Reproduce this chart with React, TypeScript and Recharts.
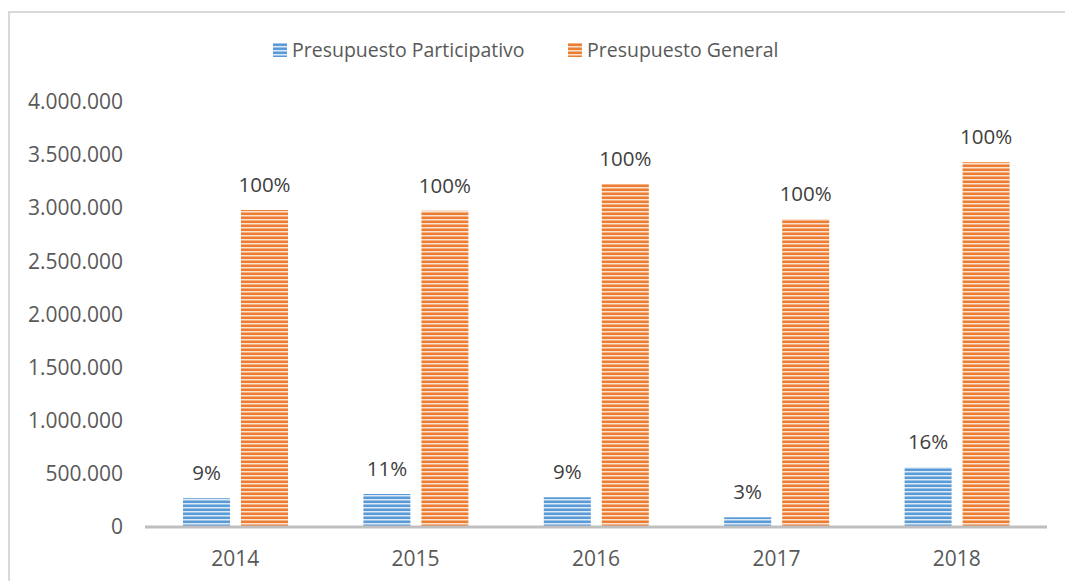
import React from "react";
import { BarChart, Bar, XAxis, YAxis, LabelList } from "recharts";

const categories = ["2014", "2015", "2016", "2017", "2018"];
const participativo = [270000, 310000, 279000, 91000, 561000];
const general = [2980000, 2973000, 3224000, 2895000, 3428000];
const participativoPct = ["9%", "11%", "9%", "3%", "16%"];
const generalPct = ["100%", "100%", "100%", "100%", "100%"];
const yTicks = [0, 500000, 1000000, 1500000, 2000000, 2500000, 3000000, 3500000, 4000000];
const seriesNames = ["Presupuesto Participativo", "Presupuesto General"];

const data = categories.map((year, i) => ({
  year,
  participativo: participativo[i],
  general: general[i],
  pPct: participativoPct[i],
  gPct: generalPct[i],
}));

const FONT = "'Open Sans', sans-serif";

function fmtThousands(v: number): string {
  return String(v).replace(/\B(?=(\d{3})+(?!\d))/g, ".");
}

// striped fills, referenced by id from the chart and the legend
function StripeDefs() {
  return (
    <svg width={0} height={0} style={{ position: "absolute" }}>
      <defs>
        <pattern id="stripeBlue" patternUnits="userSpaceOnUse" width={8} height={4}>
          <rect width={8} height={4} fill="#dceaf7" />
          <rect y={0} width={8} height={1} fill="#9dc3e6" />
          <rect y={1} width={8} height={2} fill="#5b9bd5" />
        </pattern>
        <pattern id="stripeOrange" patternUnits="userSpaceOnUse" width={8} height={4}>
          <rect width={8} height={4} fill="#fbe3d3" />
          <rect y={0} width={8} height={1} fill="#f4b183" />
          <rect y={1} width={8} height={2} fill="#ed7d31" />
        </pattern>
      </defs>
    </svg>
  );
}

function LegendBox() {
  const fills = ["url(#stripeBlue)", "url(#stripeOrange)"];
  const lefts = [273, 568];
  return (
    <>
      {seriesNames.map((name, i) => (
        <div
          key={name}
          style={{
            position: "absolute",
            left: lefts[i],
            top: 36,
            display: "flex",
            alignItems: "center",
            fontFamily: FONT,
            fontSize: 19.5,
            color: "#595959",
            whiteSpace: "nowrap",
          }}
        >
          <svg width={14} height={14} style={{ marginRight: 5 }}>
            <rect width={14} height={14} fill={fills[i]} />
          </svg>
          <span>{name}</span>
        </div>
      ))}
    </>
  );
}

export default function App() {
  return (
    <div
      style={{
        position: "absolute",
        left: 0,
        top: 0,
        width: 1065,
        height: 581,
        overflow: "hidden",
        background: "#fff",
      }}
    >
      <StripeDefs />
      <div
        style={{
          position: "absolute",
          left: 8,
          top: 11,
          width: 1400,
          height: 800,
          borderLeft: "2px solid #d9d9d9",
          borderTop: "2px solid #d9d9d9",
          boxSizing: "border-box",
        }}
      />
      <LegendBox />
      <div style={{ position: "absolute", left: 0, top: 0 }}>
        <BarChart
          width={1065}
          height={581}
          data={data}
          margin={{ top: 101.5, right: 18, bottom: 14, left: 45 }}
          barSize={47}
          barGap={11}
        >
          <XAxis
            dataKey="year"
            axisLine={{ stroke: "#bfbfbf", strokeWidth: 3 }}
            tickLine={false}
            tickSize={0}
            tickMargin={24}
            height={40}
            tick={{ fontSize: 21, fill: "#595959", fontFamily: FONT }}
          />
          <YAxis
            domain={[0, 4000000]}
            ticks={yTicks}
            tickFormatter={fmtThousands}
            axisLine={false}
            tickLine={false}
            tickSize={0}
            tickMargin={22}
            width={100}
            interval={0}
            tick={{ fontSize: 21, fill: "#595959", fontFamily: FONT }}
          />
          <Bar dataKey="participativo" name={seriesNames[0]} fill="url(#stripeBlue)" isAnimationActive={false}>
            <LabelList
              dataKey="pPct"
              position="top"
              offset={18}
              style={{ fontSize: 20.5, fill: "#404040", fontFamily: FONT }}
            />
          </Bar>
          <Bar dataKey="general" name={seriesNames[1]} fill="url(#stripeOrange)" isAnimationActive={false}>
            <LabelList
              dataKey="gPct"
              position="top"
              offset={18}
              style={{ fontSize: 20.5, fill: "#404040", fontFamily: FONT }}
            />
          </Bar>
        </BarChart>
      </div>
    </div>
  );
}
